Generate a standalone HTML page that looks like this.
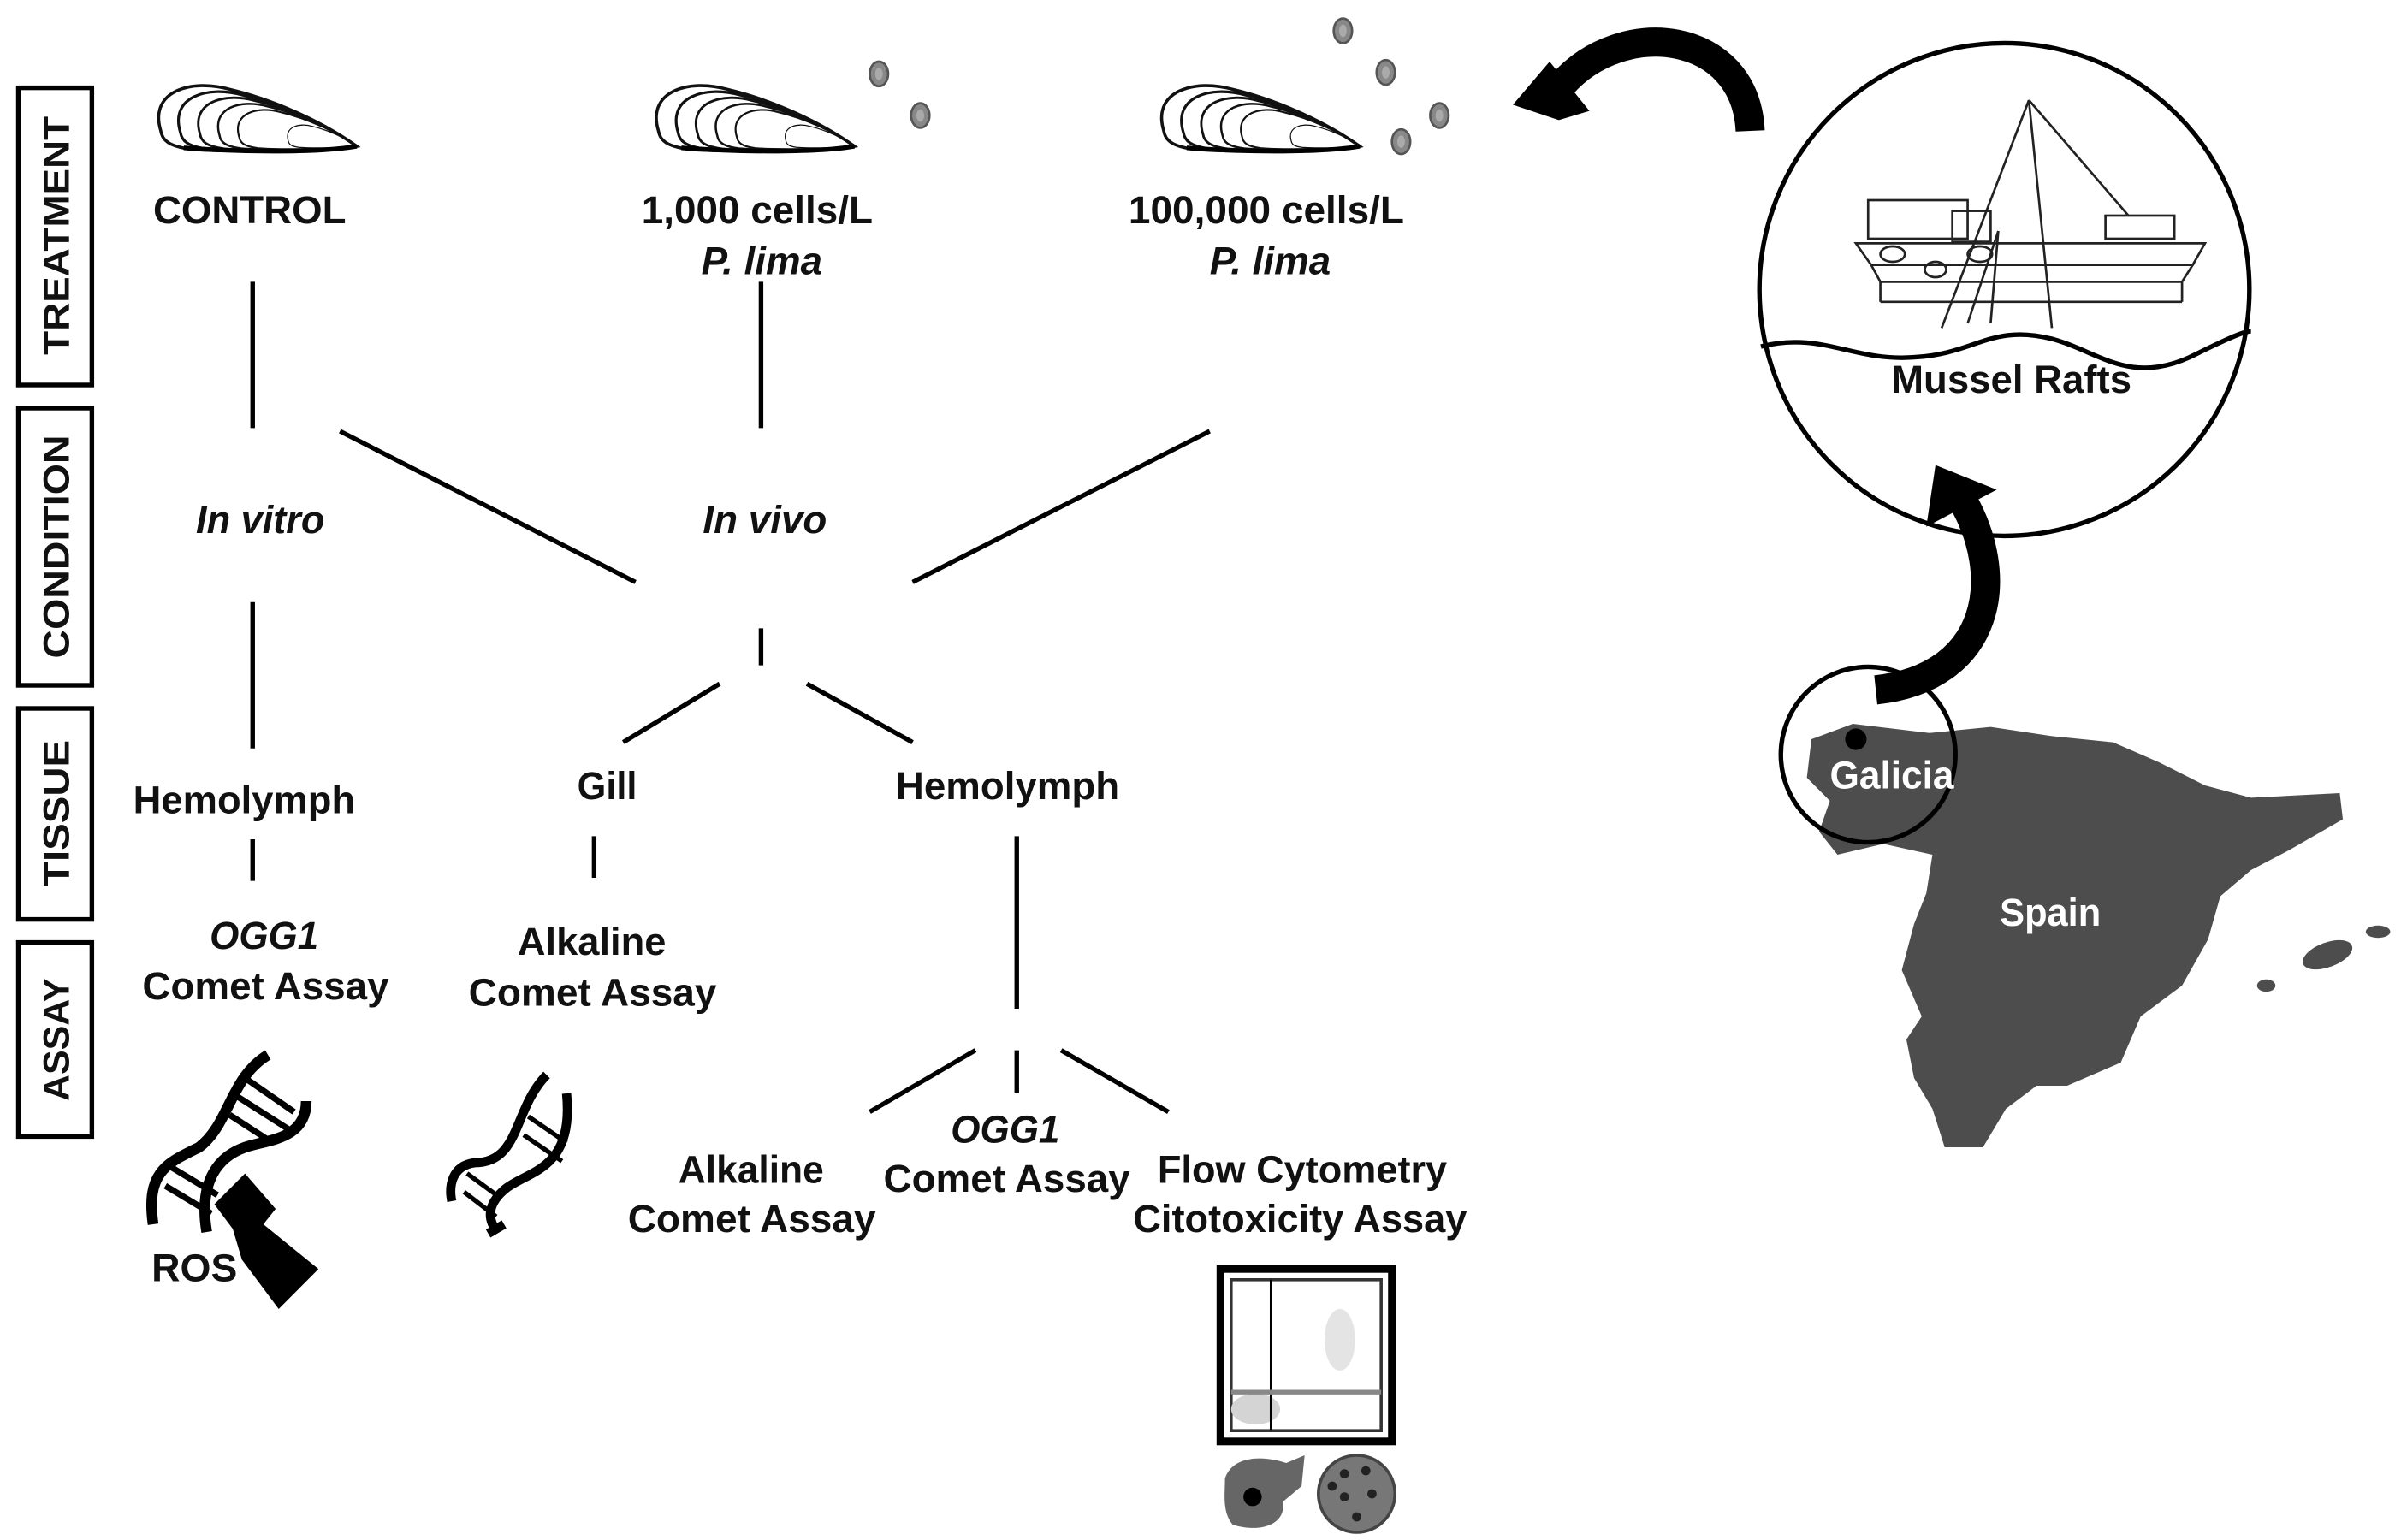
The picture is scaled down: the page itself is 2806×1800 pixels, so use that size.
<!DOCTYPE html>
<html><head><meta charset="utf-8"><style>html,body{margin:0;padding:0;background:#fff}svg{display:block}</style></head>
<body>
<svg width="2806" height="1800" viewBox="0 0 1568 1000" preserveAspectRatio="none" xmlns="http://www.w3.org/2000/svg">
<defs>
<path id="sh" d="M5,30 C-3,4 25,-4 50,3 C80,10 112,25 133,40 C115,43 50,44 25,42 C10,40 6,36 5,30Z" fill="none" stroke="#111" stroke-width="2"/>
<g id="mus">
<use href="#sh"/>
<use href="#sh" transform="translate(13.3,4) scale(0.9)"/>
<use href="#sh" transform="translate(26.6,8) scale(0.8)"/>
<use href="#sh" transform="translate(39.9,12) scale(0.7)"/>
<use href="#sh" transform="translate(53.2,16) scale(0.6)"/>
<use href="#sh" transform="translate(86.5,26) scale(0.35)"/>
<path d="M20,41 C60,44 110,44 133,40" stroke="#000" stroke-width="3" fill="none"/>
</g>
<g id="cell"><ellipse cx="0" cy="0" rx="6" ry="8" fill="#888" stroke="#555" stroke-width="1.5"/><ellipse cx="0" cy="0" rx="2.5" ry="4" fill="#aaa"/></g>
</defs>
<g font-family="Liberation Sans, Arial, sans-serif" fill="#111">
<g fill="none" stroke="#000" stroke-width="3">
<rect x="12" y="57" width="48" height="193"/>
<rect x="12" y="265" width="48" height="180"/>
<rect x="12" y="460" width="48" height="137"/>
<rect x="12" y="612" width="48" height="126"/>
</g>
<g font-weight="bold" font-size="24" text-anchor="middle">
<text transform="translate(45,153) rotate(-90)" textLength="155" lengthAdjust="spacingAndGlyphs">TREATMENT</text>
<text transform="translate(45,355) rotate(-90)" textLength="145" lengthAdjust="spacingAndGlyphs">CONDITION</text>
<text transform="translate(45,528) rotate(-90)" textLength="95" lengthAdjust="spacingAndGlyphs">TISSUE</text>
<text transform="translate(45,675) rotate(-90)" textLength="80" lengthAdjust="spacingAndGlyphs">ASSAY</text>
</g>
<use href="#mus" transform="translate(100,55)"/>
<use href="#mus" transform="translate(425,55)"/>
<use href="#mus" transform="translate(755,55)"/>
<g>
<use href="#cell" transform="translate(574,48)"/><use href="#cell" transform="translate(601,75)"/>
<use href="#cell" transform="translate(877,20)"/><use href="#cell" transform="translate(905,47)"/>
<use href="#cell" transform="translate(915,92)"/><use href="#cell" transform="translate(940,75)"/>
</g>
<g font-size="25" font-weight="bold">
<text x="100" y="145" textLength="126" lengthAdjust="spacingAndGlyphs">CONTROL</text>
<text x="419" y="145" textLength="151" lengthAdjust="spacingAndGlyphs">1,000 cells/L</text>
<text x="458" y="178" font-style="italic" textLength="79" lengthAdjust="spacingAndGlyphs">P. lima</text>
<text x="737" y="145" textLength="180" lengthAdjust="spacingAndGlyphs">100,000 cells/L</text>
<text x="790" y="178" font-style="italic" textLength="79" lengthAdjust="spacingAndGlyphs">P. lima</text>
<text x="128" y="346" font-style="italic" textLength="84" lengthAdjust="spacingAndGlyphs">In vitro</text>
<text x="459" y="346" font-style="italic" textLength="81" lengthAdjust="spacingAndGlyphs">In vivo</text>
<text x="87" y="528" textLength="145" lengthAdjust="spacingAndGlyphs">Hemolymph</text>
<text x="377" y="519" textLength="39" lengthAdjust="spacingAndGlyphs">Gill</text>
<text x="585" y="519" textLength="146" lengthAdjust="spacingAndGlyphs">Hemolymph</text>
<text x="137" y="616" font-style="italic" textLength="71" lengthAdjust="spacingAndGlyphs">OGG1</text>
<text x="93" y="649" textLength="161" lengthAdjust="spacingAndGlyphs">Comet Assay</text>
<text x="338" y="620" textLength="97" lengthAdjust="spacingAndGlyphs">Alkaline</text>
<text x="306" y="653" textLength="162" lengthAdjust="spacingAndGlyphs">Comet Assay</text>
<text x="443" y="768" textLength="95" lengthAdjust="spacingAndGlyphs">Alkaline</text>
<text x="410" y="800" textLength="162" lengthAdjust="spacingAndGlyphs">Comet Assay</text>
<text x="621" y="742" font-style="italic" textLength="71" lengthAdjust="spacingAndGlyphs">OGG1</text>
<text x="577" y="774" textLength="161" lengthAdjust="spacingAndGlyphs">Comet Assay</text>
<text x="756" y="768" textLength="189" lengthAdjust="spacingAndGlyphs">Flow Cytometry</text>
<text x="740" y="800" textLength="218" lengthAdjust="spacingAndGlyphs">Citotoxicity Assay</text>
<text x="99" y="832" textLength="56" lengthAdjust="spacingAndGlyphs">ROS</text>
<text x="1235" y="255" textLength="157" lengthAdjust="spacingAndGlyphs">Mussel Rafts</text>
</g>
<g stroke="#000" stroke-width="3" fill="none">
<line x1="165" y1="183" x2="165" y2="278"/>
<line x1="497" y1="183" x2="497" y2="278"/>
<line x1="222" y1="280" x2="415" y2="378"/>
<line x1="790" y1="280" x2="596" y2="378"/>
<line x1="497" y1="408" x2="497" y2="432"/>
<line x1="470" y1="444" x2="407" y2="482"/>
<line x1="527" y1="444" x2="596" y2="482"/>
<line x1="165" y1="391" x2="165" y2="486"/>
<line x1="165" y1="545" x2="165" y2="572"/>
<line x1="388" y1="543" x2="388" y2="570"/>
<line x1="664" y1="543" x2="664" y2="655"/>
<line x1="637" y1="682" x2="568" y2="722"/>
<line x1="664" y1="682" x2="664" y2="710"/>
<line x1="693" y1="682" x2="763" y2="722"/>
</g>
<g stroke="#000" fill="none" stroke-width="7">
<path d="M175,685 C150,700 150,730 130,745 C110,755 95,760 100,795"/>
<path d="M200,715 C200,740 175,740 160,745 C140,752 130,770 135,800"/>
</g>
<g stroke="#000" stroke-width="4">
<line x1="160" y1="700" x2="192" y2="722"/><line x1="155" y1="712" x2="188" y2="733"/><line x1="150" y1="724" x2="178" y2="742"/>
<line x1="112" y1="758" x2="142" y2="776"/><line x1="108" y1="770" x2="138" y2="788"/>
</g>
<polygon points="140,782 160,762 180,785 172,795 208,824 182,850 158,818 152,798" fill="#000"/>
<g stroke="#000" fill="none" stroke-width="6">
<path d="M357,698 C335,720 340,755 310,755 C295,757 293,770 295,780"/>
<path d="M370,710 C375,760 345,760 330,772 C318,782 318,792 325,800"/>
</g>
<g stroke="#000" stroke-width="3">
<line x1="345" y1="725" x2="370" y2="742"/><line x1="342" y1="737" x2="367" y2="754"/>
<line x1="305" y1="762" x2="327" y2="778"/><line x1="303" y1="774" x2="324" y2="790"/>
</g>
<rect x="318" y="795" width="12" height="6" fill="#000" transform="rotate(-30 324 798)"/>
<rect x="797" y="824" width="112" height="112" fill="#fff" stroke="#000" stroke-width="5"/>
<rect x="804" y="831" width="98" height="98" fill="none" stroke="#333" stroke-width="2"/>
<ellipse cx="875" cy="870" rx="10" ry="20" fill="#e4e4e4"/>
<ellipse cx="820" cy="915" rx="16" ry="10" fill="#d4d4d4"/>
<line x1="830" y1="831" x2="830" y2="929" stroke="#000" stroke-width="1.5"/>
<line x1="804" y1="904" x2="902" y2="904" stroke="#888" stroke-width="3"/>
<path d="M800,960 C805,945 825,945 840,950 L852,945 L850,965 L838,975 C840,992 820,995 805,990 C798,982 800,970 800,960Z" fill="#666"/>
<circle cx="818" cy="972" r="6" fill="#000"/>
<circle cx="886" cy="970" r="25" fill="#777" stroke="#444" stroke-width="2"/>
<g fill="#222"><circle cx="878" cy="957" r="3"/><circle cx="892" cy="955" r="3"/><circle cx="878" cy="972" r="3"/><circle cx="896" cy="970" r="3"/><circle cx="886" cy="985" r="3"/><circle cx="870" cy="965" r="3"/></g>
<circle cx="1309" cy="188" r="160" fill="none" stroke="#000" stroke-width="3"/>
<g stroke="#222" stroke-width="1.5" fill="none">
<rect x="1220" y="130" width="65" height="25"/><rect x="1275" y="137" width="25" height="20"/>
<rect x="1375" y="140" width="45" height="15"/>
<polygon points="1212,158 1440,158 1432,172 1222,172"/>
<polygon points="1222,172 1432,172 1425,183 1228,183"/>
<line x1="1228" y1="183" x2="1228" y2="196"/><line x1="1425" y1="183" x2="1425" y2="196"/><line x1="1228" y1="196" x2="1425" y2="196"/>
<line x1="1325" y1="65" x2="1268" y2="213"/><line x1="1325" y1="65" x2="1390" y2="140"/><line x1="1325" y1="65" x2="1340" y2="213"/>
<line x1="1305" y1="150" x2="1300" y2="210"/><line x1="1305" y1="150" x2="1285" y2="210"/>
<ellipse cx="1236" cy="165" rx="8" ry="5"/><ellipse cx="1264" cy="175" rx="7" ry="5"/><ellipse cx="1293" cy="165" rx="8" ry="5"/>
</g>
<path d="M1150,225 C1190,215 1210,235 1250,232 C1290,230 1300,210 1340,220 C1370,228 1390,250 1430,232 C1450,222 1465,215 1470,215" fill="none" stroke="#000" stroke-width="3"/>
<path d="M1143,85 C1140,20 1060,10 1020,55" fill="none" stroke="#000" stroke-width="19"/>
<polygon points="988,68 1012,40 1038,72 1018,78" fill="#000"/>
<path d="M1225,448 C1300,440 1312,375 1280,322" fill="none" stroke="#000" stroke-width="19"/>
<polygon points="1264,302 1304,318 1258,342" fill="#000"/>
<path d="M1183,480 L1210,470 L1260,476 L1300,472 L1340,478 L1380,482 L1410,495 L1440,510 L1470,518 L1528,515 L1530,532 L1495,552 L1470,565 L1450,582 L1442,610 L1425,640 L1398,660 L1385,690 L1350,705 L1330,705 L1310,720 L1295,745 L1270,745 L1262,720 L1250,700 L1245,675 L1255,660 L1242,630 L1250,600 L1258,580 L1262,555 L1230,548 L1200,555 L1188,540 L1195,520 L1180,505Z" fill="#4d4d4d"/>
<ellipse cx="1520" cy="620" rx="17" ry="8" fill="#4d4d4d" transform="rotate(-20 1520 620)"/>
<ellipse cx="1553" cy="605" rx="8" ry="4" fill="#4d4d4d"/>
<ellipse cx="1480" cy="640" rx="6" ry="4" fill="#4d4d4d"/>
<circle cx="1220" cy="490" r="57" fill="none" stroke="#000" stroke-width="3"/>
<circle cx="1212" cy="480" r="7" fill="#000"/>
<g font-size="25" font-weight="bold" fill="#fff">
<text x="1195" y="512" textLength="81" lengthAdjust="spacingAndGlyphs">Galicia</text>
<text x="1306" y="601" textLength="66" lengthAdjust="spacingAndGlyphs">Spain</text>
</g>
</g>
</svg>
</body></html>
